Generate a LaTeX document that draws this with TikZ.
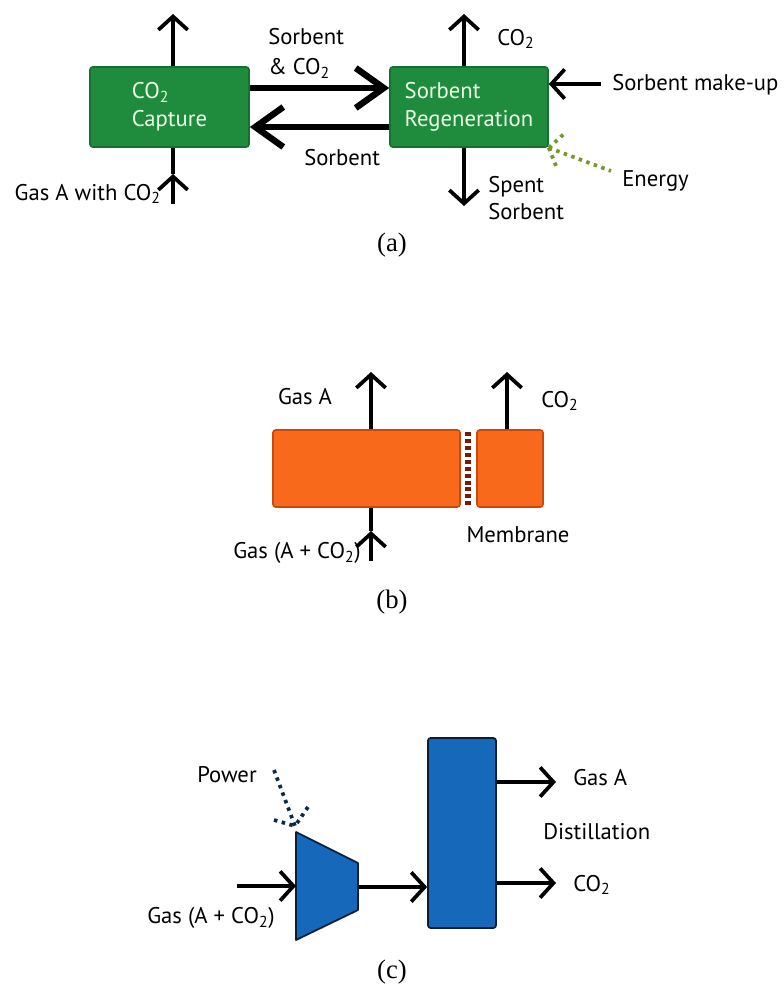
\documentclass[tikz,border=0pt]{standalone}
\usepackage{fontspec}
\setmainfont{Liberation Serif}
\newfontfamily\labfont{PT Sans}
\usetikzlibrary{arrows.meta}
\newcommand\cotwo{CO\textsubscript{2}}
\definecolor{boxgreen}{HTML}{1F8B3C}
\definecolor{boxgreenline}{HTML}{167030}
\definecolor{energy}{HTML}{74962A}
\definecolor{boxorange}{HTML}{F9691C}
\definecolor{boxorangeline}{HTML}{C9480E}
\definecolor{membr}{HTML}{7A1A0A}
\definecolor{boxblue}{HTML}{1568BA}
\definecolor{boxblueline}{HTML}{0B1E35}
\definecolor{powerc}{HTML}{0B2A4A}
\begin{document}
\begin{tikzpicture}[x=0.75pt,y=-0.75pt,
  lab/.style={font=\labfont\fontsize{17}{20}\selectfont, inner sep=0pt},
  captionlab/.style={font=\fontsize{20}{22}\selectfont, inner sep=0pt},
  unitbox/.style={draw=boxgreenline, fill=boxgreen, line width=1.2pt, rounded corners=2pt,
     text=white!92!green, align=left, font=\labfont\fontsize{17}{21}\selectfont},
  flow/.style={line width=2.8pt, -{Straight Barb[length=10pt,width=22pt]}},
  plain/.style={line width=2.8pt},
  bigflow/.style={line width=4.8pt, -{Straight Barb[length=21pt,width=30pt]}},
  dotline/.style={line width=2.8pt, dash pattern=on 2.6pt off 3.4pt, line cap=butt}
]
\useasboundingbox (0,0) rectangle (784,992);

% ---------------- (a) ----------------
\node[unitbox, minimum width=119.25pt, minimum height=60pt] (capt) at (169.5,107) {\cotwo\\Capture};
\node[unitbox, minimum width=118.5pt, minimum height=60pt] (regen) at (469,107) {Sorbent\\Regeneration};

\coordinate (captup) at (173,14);
\coordinate (captin) at (173,204);
\coordinate (captmid) at (173,174);
\draw[flow] (capt.north -| captup) -- (captup);
\draw[flow] (captin) -- (captmid);
\draw[plain] (captmid) -- (capt.south -| captin);

\draw[bigflow] ([yshift=14.25pt]capt.east) -- ([yshift=14.25pt]regen.west);
\draw[bigflow] ([yshift=-15pt]regen.west) -- ([yshift=-15pt]capt.east);

\coordinate (regup) at (464,14);
\coordinate (regdown) at (464,206);
\coordinate (makeup) at (601,84);
\draw[flow] (regen.north -| regup) -- (regup);
\draw[flow] (regen.south -| regdown) -- (regdown);
\draw[flow] (makeup) -- (regen.east |- makeup);

\coordinate (en1) at (566,132);
\coordinate (en2) at (556,166);
\coordinate (en3) at (611,171);
\draw[dotline, energy] (regen.south east) -- (en1);
\draw[dotline, energy] (regen.south east) -- (en2);
\draw[dotline, energy] (regen.south east) -- (en3);

\node[lab, align=left, anchor=west, font=\labfont\fontsize{17}{23}\selectfont] (l1) at (268,53) {Sorbent\\\& \cotwo};
\node[lab, anchor=west] (l2) at (304,158) {Sorbent};
\node[lab, anchor=east] (l3) at (161,194) {Gas A with \cotwo};
\node[lab, anchor=west] (l4) at (497,39) {\cotwo};
\node[lab, anchor=west] (l5) at (612,85) {Sorbent make-up};
\node[lab, align=left, anchor=west] (l6) at (488,198) {Spent\\Sorbent};
\node[lab, anchor=west] (l7) at (622,181) {Energy};
\node[captionlab] (ca) at (392,245) {(a)};

% ---------------- (b) ----------------
\node[draw=boxorangeline, fill=boxorange, line width=1.2pt, rounded corners=2pt,
      minimum width=140.25pt, minimum height=57.75pt] (memleft) at (366.5,468.5) {};
\node[draw=boxorangeline, fill=boxorange, line width=1.2pt, rounded corners=2pt,
      minimum width=49.5pt, minimum height=57.75pt] (memright) at (510,468.5) {};
\draw[membr, line width=4pt, dash pattern=on 3pt off 2.2pt] (468,432) -- (468,506);

\coordinate (gasAup) at (371,372);
\coordinate (co2up) at (507,372);
\coordinate (gasin) at (371,561);
\coordinate (gasmid) at (371,531);
\draw[flow] (memleft.north -| gasAup) -- (gasAup);
\draw[flow] (memright.north -| co2up) -- (co2up);
\draw[flow] (gasin) -- (gasmid);
\draw[plain] (gasmid) -- (memleft.south -| gasin);

\node[lab] (m1) at (305,397) {Gas A};
\node[lab, anchor=west] (m2) at (541,401) {\cotwo};
\node[lab, anchor=east] (m3) at (361,553) {Gas (A + \cotwo)};
\node[lab] (m4) at (518,535) {Membrane};
\node[captionlab] (cb) at (392,602) {(b)};

% ---------------- (c) ----------------
\draw[draw=boxblueline, fill=boxblue, line width=1.3pt, line join=round]
  (296,832) -- (358,863) -- (358,910) -- (296,940) -- cycle;
\coordinate (compin) at (296,886);
\coordinate (compout) at (359,887);
\coordinate (gasstart) at (237,886);
\node[draw=boxblueline, fill=boxblue, line width=1.3pt, rounded corners=2pt,
      minimum width=51pt, minimum height=142.5pt] (col) at (462,833) {};
\draw[flow] (gasstart) -- (compin);
\draw[flow] (compout) -- (col.west |- compout);
\coordinate (outA) at (556,782);
\coordinate (outC) at (556,883);
\draw[flow] (col.east |- outA) -- (outA);
\draw[flow] (col.east |- outC) -- (outC);

\coordinate (pw0) at (274,770);
\coordinate (pw1) at (295,826);
\coordinate (pw2) at (274,820);
\coordinate (pw3) at (308,807);
\draw[dotline, powerc] (pw0) -- (pw1);
\draw[dotline, powerc] (pw2) -- (pw1);
\draw[dotline, powerc] (pw3) -- (pw1);

\node[lab] (p1) at (227,775) {Power};
\node[lab] (p2) at (211,918) {Gas (A + \cotwo)};
\node[lab, anchor=west] (p3) at (573,778) {Gas A};
\node[lab, anchor=west] (p4) at (543,832) {Distillation};
\node[lab, anchor=west] (p5) at (573,885) {\cotwo};
\node[captionlab] (cc) at (392,972) {(c)};
\end{tikzpicture}
\end{document}
